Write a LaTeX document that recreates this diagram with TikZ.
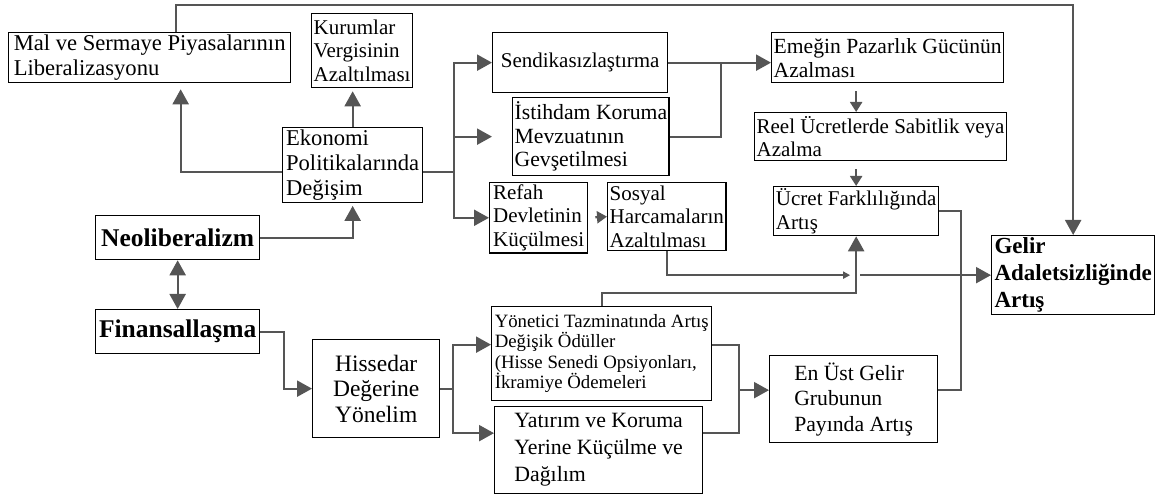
\documentclass[tikz,border=0pt]{standalone}
\usepackage{fontspec}
\setmainfont{Liberation Serif}
\usepackage{tikz}
\usetikzlibrary{arrows.meta,calc,positioning}
\definecolor{hat}{RGB}{85,85,85}
\hyphenpenalty=10000

\begin{document}
\begin{tikzpicture}[x=1pt,y=-1pt,
  kutu/.style={draw=black, line width=1.3pt, anchor=north west, align=left, inner sep=2pt, font=\fontsize{21}{23.5}\selectfont},
  buyuk/.style={font=\fontsize{22.6}{25}\selectfont},
  kalin/.style={kutu, font=\fontsize{25.5}{28}\selectfont\bfseries},
  ok/.style={draw=hat, line width=2.2pt},
  kucuk/.style={-{Triangle[length=10pt,width=12pt]}},
  >={Triangle[length=15pt,width=16pt]}]
\useasboundingbox (0,0) rectangle (1168,497);

% kutular
\node[kutu, buyuk, minimum width=282pt, minimum height=50pt] (mal) at (8,32) {Mal ve Sermaye Piyasalarının\\Liberalizasyonu};
\node[kutu, minimum width=101pt, minimum height=74pt] (kurum) at (311,13) {Kurumlar\\Vergisinin\\Azaltılması};
\node[kutu, buyuk, minimum width=140pt, minimum height=68pt] (ekon) at (282,127) {Ekonomi\\Politikalarında\\Değişim};
\node[kalin, minimum width=164pt, minimum height=44pt] (neo) at (95,215) {Neoliberalizm};
\node[kalin, minimum width=164pt, minimum height=44pt] (fin) at (95,309) {Finansallaşma};
\node[kutu, align=center, font=\fontsize{23.5}{25.5}\selectfont, minimum width=127pt, minimum height=98pt] (hisse) at (312,339) {Hissedar\\Değerine\\Yönelim};
\node[kutu, minimum width=175pt, minimum height=60pt] (sendika) at (492,32) {Sendikasızlaştırma};
\node[kutu, font=\fontsize{21.7}{23.5}\selectfont, minimum width=155pt, minimum height=78pt] (istih) at (512,97) {İstihdam Koruma\\Mevzuatının\\Gevşetilmesi};
\node[kutu, minimum width=98pt, minimum height=68pt] (refah) at (489,182) {Refah\\Devletinin\\Küçülmesi};
\node[kutu, minimum width=118pt, minimum height=68pt] (sosyal) at (607,182) {Sosyal\\Harcamaların\\Azaltılması};
\node[kutu, font=\fontsize{21.6}{24}\selectfont, minimum width=232pt, minimum height=50pt] (emek) at (771,32) {Emeğin Pazarlık Gücünün\\Azalması};
\node[kutu, minimum width=251pt, minimum height=48pt] (reel) at (754,112) {Reel Ücretlerde Sabitlik veya\\Azalma};
\node[kutu, minimum width=165pt, minimum height=49pt] (ucret) at (773,186) {Ücret Farklılığında\\Artış};
\node[kalin, font=\fontsize{23}{27}\selectfont\bfseries, minimum width=163pt, minimum height=79pt] (gelir) at (991,235) {Gelir\\Adaletsizliğinde\\Artış};
\node[kutu, font=\fontsize{18.8}{20.5}\selectfont, minimum width=220pt, minimum height=94pt] (yonet) at (491,306) {Yönetici Tazminatında Artış\\Değişik Ödüller\\(Hisse Senedi Opsiyonları,\\İkramiye Ödemeleri};
\node[kutu, font=\fontsize{21.8}{27}\selectfont, minimum width=208pt, minimum height=87pt] (yatirim) at (494,406) {Yatırım ve Koruma\\Yerine Küçülme ve\\Dağılım};
\node[kutu, font=\fontsize{21.7}{25.5}\selectfont, minimum width=168pt, minimum height=87pt] (enust) at (769,355) {En Üst Gelir\\Grubunun\\Payında Artış};

% baglantilar
\coordinate (orta) at (ucret.south |- gelir.west);
\coordinate (giris) at ([yshift=9pt]enust.west);
\draw[ok,->] ([xshift=26pt]mal.north) -- ++(0,-27) -| (gelir.north);
\draw[ok,->,shorten >=6pt] ([yshift=-7pt]ekon.west) -| ([xshift=31pt]mal.south);
\draw[ok,->,shorten >=3pt] (ekon.north) -- (ekon.north |- kurum.south);
\draw[ok,->,shorten >=3pt] (neo.east) -| (ekon.south);
\draw[ok,<->] (neo.south) -- (fin.north);
\draw[ok] ([yshift=-7pt]ekon.east) -- ++(31,0) coordinate (dal1);
\foreach \h/\k in {sendika/0,istih/20,refah/0}
  \draw[ok,->,shorten >=\k pt] (dal1) |- (\h.west);
\draw[ok,->] (sendika.east) -- (sendika.east -| emek.west);
\draw[ok] (istih.east) -- ++(51,0) |- (sendika.east);
\draw[ok,kucuk,shorten <=8pt] (emek.south -| ucret.north) -- (reel.north -| ucret.north);
\draw[ok,kucuk,shorten <=8pt] (reel.south -| ucret.north) -- (ucret.north);
\draw[ok,kucuk,shorten <=7pt] (refah.east) -- (sosyal.west);
\draw[ok,-{Triangle[length=7pt,width=7pt]}] (sosyal.south) |- ([xshift=-6pt]orta);
\draw[ok,->] ([xshift=4pt]orta) -- (gelir.west);
\draw[ok,->] (yonet.north) -- ++(0,-13) -| (ucret.south);
\draw[ok] (ucret.east) -- ++(22,0) |- (giris -| enust.east);
\draw[ok,->] (fin.east) -- ++(24,0) |- (hisse.west);
\draw[ok] (hisse.east) -- ++(13,0) coordinate (dal2);
\foreach \h/\d in {yonet/9,yatirim/17}
  \draw[ok,->] (dal2) |- ([yshift=\d pt]\h.west);
\draw[ok] ([yshift=9pt]yonet.east) -- ++(27,0) coordinate (dal3) |- ([yshift=17pt]yatirim.east);
\draw[ok,->] (dal3 |- giris) -- (giris);
\end{tikzpicture}
\end{document}
